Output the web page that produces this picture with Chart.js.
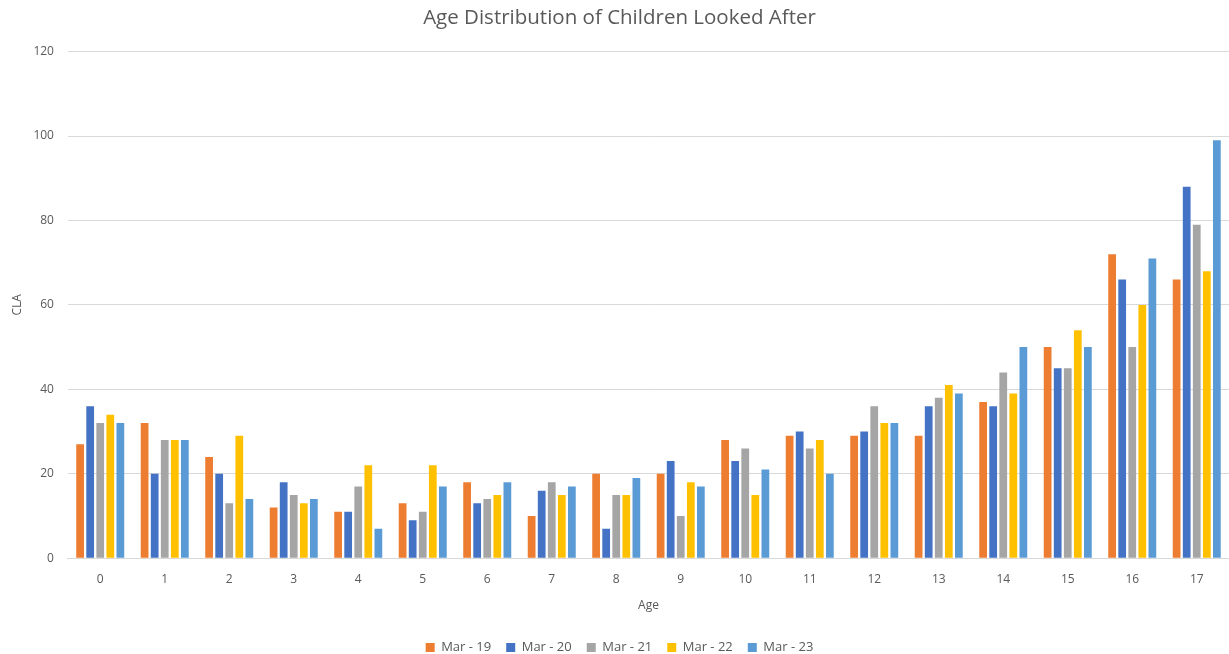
<!DOCTYPE html>
<html>
<head>
<meta charset="utf-8">
<script src="https://cdn.jsdelivr.net/npm/chart.js@4.4.0/dist/chart.umd.min.js"></script>
<style>
    html, body { margin: 0; padding: 0; background: #fff; }
    #wrap { width: 1229px; height: 654px; }
</style>
</head>
<body>
<div id="wrap"><canvas id="ageChart"></canvas></div>
<script>
// Ages 0-17
const ages = ['0', '1', '2', '3', '4', '5', '6', '7', '8', '9', '10', '11', '12', '13', '14', '15', '16', '17'];

const mar19 = [27, 32, 24, 12, 11, 13, 18, 10, 20, 20, 28, 29, 29, 29, 37, 50, 72, 66];
const mar20 = [36, 20, 20, 18, 11, 9, 13, 16, 7, 23, 23, 30, 30, 36, 36, 45, 66, 88];
const mar21 = [32, 28, 13, 15, 17, 11, 14, 18, 15, 10, 26, 26, 36, 38, 44, 45, 50, 79];
const mar22 = [34, 28, 29, 13, 22, 22, 15, 15, 15, 18, 15, 28, 32, 41, 39, 54, 60, 68];
const mar23 = [32, 28, 14, 14, 7, 17, 18, 17, 19, 17, 21, 20, 32, 39, 50, 50, 71, 99];

const seriesNames = ['Mar - 19', 'Mar - 20', 'Mar - 21', 'Mar - 22', 'Mar - 23'];
const seriesColors = ['#ED7D31', '#4472C4', '#A5A5A5', '#FFC000', '#5B9BD5'];
const allSeries = [mar19, mar20, mar21, mar22, mar23];

const textColor = '#595959';
const gridColor = '#d9d9d9';

const datasets = allSeries.map((vals, i) => ({
    label: seriesNames[i],
    data: vals,
    backgroundColor: seriesColors[i],
    borderWidth: 0,
    categoryPercentage: 0.78,
    barPercentage: 0.77
}));

const ctx = document.getElementById('ageChart').getContext('2d');
new Chart(ctx, {
    type: 'bar',
    data: { labels: ages, datasets: datasets },
    options: {
        responsive: true,
        maintainAspectRatio: false,
        animation: false,
        layout: { padding: { left: 10, right: 0, top: 0, bottom: -10 } },
        plugins: {
            title: {
                display: true,
                text: 'Age Distribution of Children Looked After',
                color: textColor,
                font: { family: 'Open Sans', size: 20.5, weight: 'normal' },
                padding: { top: 6, bottom: 21 }
            },
            legend: {
                position: 'bottom',
                labels: {
                    color: textColor,
                    font: { family: 'Open Sans', size: 13 },
                    boxWidth: 9,
                    boxHeight: 9,
                    padding: 15
                }
            },
            tooltip: { enabled: false }
        },
        scales: {
            x: {
                grid: { display: false, drawTicks: false },
                border: { color: gridColor },
                ticks: { color: textColor, font: { family: 'Open Sans', size: 12 }, padding: 14 },
                title: {
                    display: true,
                    text: 'Age',
                    color: textColor,
                    font: { family: 'Open Sans', size: 12 },
                    padding: { top: -2, bottom: 13 }
                }
            },
            y: {
                min: 0,
                max: 120,
                ticks: { stepSize: 20, color: textColor, font: { family: 'Open Sans', size: 12 }, padding: 14 },
                grid: { color: gridColor, drawTicks: false },
                border: { display: false },
                title: {
                    display: true,
                    text: 'CLA',
                    color: textColor,
                    font: { family: 'Open Sans', size: 12 },
                    padding: { top: 0, bottom: -5 }
                }
            }
        }
    }
});
</script>
</body>
</html>
